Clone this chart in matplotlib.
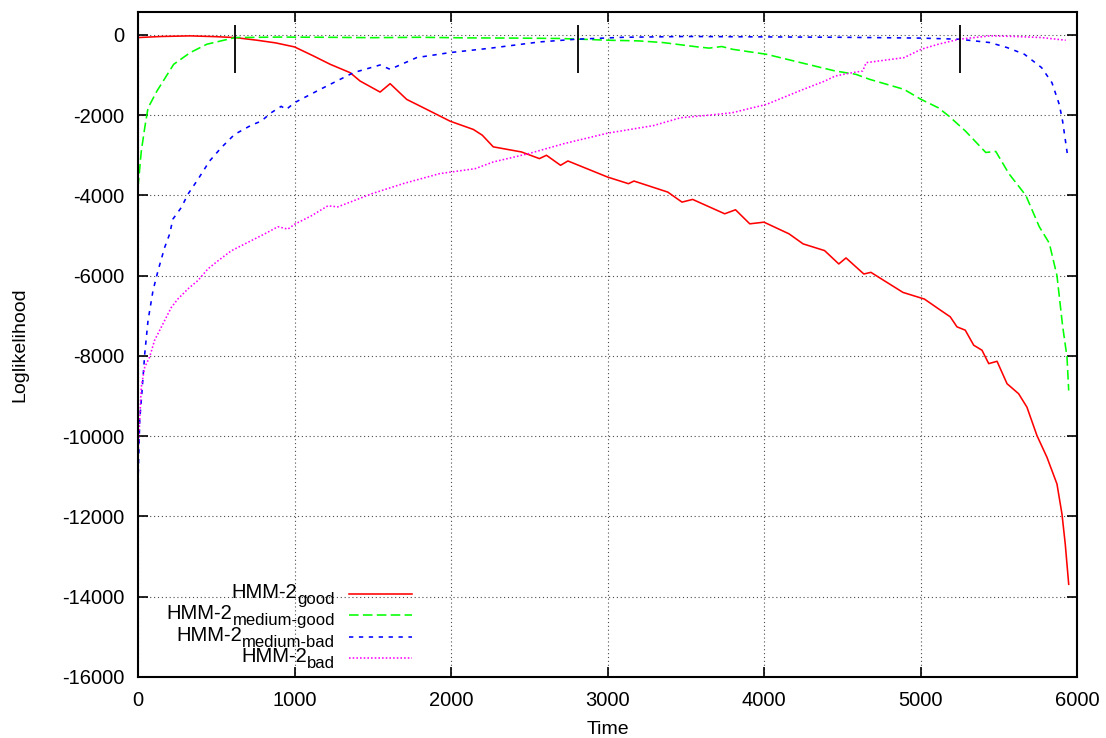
import matplotlib
matplotlib.use("Agg")
import matplotlib.pyplot as plt

plt.rcParams['font.family'] = ['Liberation Sans', 'DejaVu Sans']
plt.rcParams['axes.unicode_minus'] = False

# HMM-2 good
t_good = [0, 150, 334, 500, 621, 760, 880, 1000, 1121, 1228, 1355, 1419, 1547, 1611,
          1717, 1824, 1994, 2143, 2200, 2270, 2450, 2565, 2610, 2700, 2747, 3000, 3134,
          3169, 3385, 3476, 3544, 3749, 3818, 3909, 4000, 4160, 4250, 4387, 4478, 4524,
          4638, 4683, 4888, 5025, 5127, 5190, 5233, 5286, 5340, 5393, 5436, 5489, 5553,
          5627, 5680, 5744, 5808, 5872, 5904, 5925, 5947]
ll_good = [-67, -40, -25, -45, -67, -133, -200, -300, -525, -733, -941, -1150, -1425, -1216,
           -1608, -1816, -2150, -2357, -2500, -2790, -2917, -3083, -3000, -3250, -3142, -3542, -3708,
           -3642, -3917, -4167, -4100, -4458, -4358, -4708, -4667, -4958, -5208, -5375, -5708, -5558,
           -5958, -5917, -6417, -6583, -6858, -7025, -7275, -7358, -7733, -7858, -8192, -8133, -8692,
           -8942, -9275, -9983, -10525, -11190, -11940, -12690, -13690]

# HMM-2 medium-good
t_mgood = [0, 21, 43, 64, 121, 228, 334, 440, 621, 900, 1200, 1500, 1800, 2100, 2400, 2700,
           3004, 3200, 3356, 3576, 3650, 3730, 3800, 4015, 4235, 4455, 4587, 4675, 4895, 5000,
           5114, 5182, 5288, 5417, 5481, 5566, 5673, 5759, 5823, 5872, 5908, 5936, 5947]
ll_mgood = [-3800, -2900, -2315, -1820, -1400, -733, -441, -233, -67, -55, -60, -70, -60, -75, -80, -90,
            -133, -150, -192, -300, -330, -290, -360, -483, -692, -900, -983, -1108, -1358, -1600,
            -1817, -2025, -2400, -2930, -2905, -3465, -4000, -4780, -5190, -6000, -7250, -8025, -8860]

# HMM-2 medium-bad
t_mbad = [0, 11, 26, 43, 64, 96, 128, 170, 202, 223, 277, 319, 383, 458, 532, 617, 724, 787,
          851, 915, 947, 1000, 1164, 1377, 1547, 1611, 1781, 1994, 2249, 2568, 2802, 3100, 3500,
          4000, 4500, 5000, 5246, 5444, 5554, 5664, 5774, 5840, 5887, 5908, 5940]
ll_mbad = [-11170, -9600, -8860, -7950, -7120, -6370, -5875, -5300, -4965, -4590, -4300, -3970, -3600,
           -3140, -2810, -2480, -2250, -2150, -1940, -1780, -1860, -1690, -1358, -941, -750, -858, -566,
           -441, -333, -175, -108, -60, -40, -50, -60, -80, -108, -192, -317, -483, -817, -1192, -1737,
           -2150, -3010]

# HMM-2 bad
t_bad = [0, 21, 43, 74, 106, 149, 213, 255, 319, 383, 447, 511, 596, 702, 809, 894, 958, 1000,
         1107, 1213, 1277, 1500, 1700, 1927, 2155, 2270, 2497, 2724, 3000, 3294, 3466, 3650, 3796,
         4015, 4235, 4389, 4455, 4565, 4631, 4653, 4895, 5005, 5114, 5246, 5444, 5600, 5774, 5928]
ll_bad = [-10500, -8770, -8280, -8030, -7610, -7280, -6790, -6580, -6330, -6120, -5830, -5630, -5380,
          -5170, -4960, -4780, -4840, -4720, -4510, -4260, -4285, -3950, -3700, -3458, -3333, -3167,
          -2958, -2708, -2450, -2260, -2066, -2000, -1941, -1733, -1383, -1150, -1025, -941, -900,
          -692, -567, -358, -233, -108, -25, -40, -67, -133]

# segment boundaries (vertical markers)
marks = [620, 2810, 5250]
mark_lo, mark_hi = -950, 250

series = [
    (t_good, ll_good, '#ff0000', None, 'good'),
    (t_mgood, ll_mgood, '#00ff00', (6, 2.7), 'medium-good'),
    (t_mbad, ll_mbad, '#0000ff', (2.7, 3.5), 'medium-bad'),
    (t_bad, ll_bad, '#ff00ff', (1.0, 1.3), 'bad'),
]

fig = plt.figure(figsize=(11.06, 7.38), dpi=100)
ax = fig.add_axes([138 / 1106, 1 - 677 / 738, 939 / 1106, 665 / 738])

for t, ll, col, dsh, name in series:
    kw = {} if dsh is None else {'dashes': dsh}
    ax.plot(t, ll, color=col, lw=1.15, **kw)

ax.vlines(marks, mark_lo, mark_hi, color='black', lw=1.3)

ax.set_xlim(0, 6000)
ax.set_ylim(-16000, 570)
ax.set_xticks(range(0, 6001, 1000))
ax.set_yticks(range(-16000, 1, 2000))
ax.grid(True, color='0.3', lw=0.8, linestyle=(0, (1, 2.5)))
ax.tick_params(direction='in', length=7, width=1.2, top=True, right=True,
               labelsize=14.5, pad=10)
for s in ax.spines.values():
    s.set_linewidth(1.5)

ax.set_xlabel('Time', fontsize=14, labelpad=8)
ax.set_ylabel('Loglikelihood', fontsize=14, labelpad=24)

# key in the lower left, gnuplot style: right-aligned text, sample on the right
text_right = 0.2098
sample_x = (0.2247, 0.2918)
base_y = [0.1098, 0.0782, 0.0451, 0.0135]
for (t, ll, col, dsh, name), by in zip(series, base_y):
    sub = ax.text(text_right, by, name, transform=ax.transAxes, ha='right',
                  va='baseline', fontsize=12)
    ax.annotate('HMM-2', xy=(0, by), xycoords=(sub, 'axes fraction'),
                xytext=(0, 4.3), textcoords='offset points', ha='right',
                va='baseline', fontsize=14.5)
    kw = {} if dsh is None else {'dashes': dsh}
    ax.plot(sample_x, [by + 0.015, by + 0.015], transform=ax.transAxes,
            color=col, lw=1.15, **kw)

fig.savefig('out.png', dpi=100)
